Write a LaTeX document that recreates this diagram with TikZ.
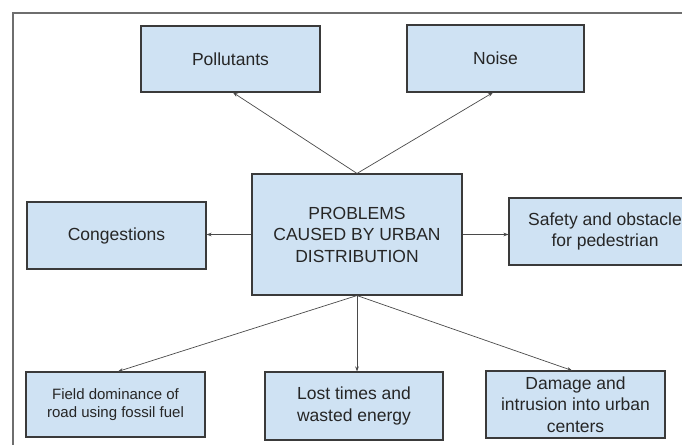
\documentclass[tikz,border=0pt]{standalone}
\usepackage{fontspec}
\setmainfont{Liberation Sans}
\usetikzlibrary{arrows.meta}

\definecolor{boxfill}{HTML}{CFE2F3}
\definecolor{boxline}{HTML}{3A3A3A}
\definecolor{frameline}{HTML}{6E6E6E}
\definecolor{linkline}{HTML}{4A4A4A}
\definecolor{labeltext}{HTML}{262626}

\tikzset{
  topic/.style={draw=boxline, line width=1.1pt, fill=boxfill, align=center,
    text=labeltext, inner sep=2pt,
    font=\fontsize{17.5}{21.5}\selectfont},
  smalltopic/.style={topic, font=\fontsize{15}{18}\selectfont},
  link/.style={draw=linkline, line width=0.7pt,
    -{Stealth[length=5pt,width=3.6pt]}}
}

\begin{document}
\begin{tikzpicture}[x=1pt, y=-1pt]
  \useasboundingbox (0,0) rectangle (682,444);
  \clip (0,0) rectangle (682,444);
  \fill[white] (0,0) rectangle (682,444);

  % outer frame, only its top and left sides fall inside the page
  \draw[frameline, line width=1.2pt] (13,460) -- (13,13) -- (700,13);

  % central problem
  \node[topic, minimum width=210pt, minimum height=121pt] (core) at (357,234.5)
    {PROBLEMS\\CAUSED BY URBAN\\DISTRIBUTION};

  % surrounding effects
  \node[topic, minimum width=179pt, minimum height=66pt] (poll) at (230.5,59) {Pollutants};
  \node[topic, minimum width=177pt, minimum height=67pt] (noise) at (495.5,58.5) {Noise};
  \node[topic, minimum width=179pt, minimum height=67pt] (cong) at (116.5,235.5) {Congestions};
  \node[topic, minimum width=192pt, minimum height=67pt] (safety) at (605,231.5)
    {Safety and obstacle\\for pedestrian};
  \node[smalltopic, minimum width=179pt, minimum height=65pt] (field) at (115.5,404.5)
    {Field dominance of\\road using fossil fuel};
  \node[topic, minimum width=178pt, minimum height=68pt] (lost) at (354,406)
    {Lost times and\\wasted energy};
  \node[topic, minimum width=179pt, minimum height=67pt] (damage) at (575.5,404.5)
    {Damage and\\intrusion into urban\\centers};

  % connectors
  \draw[link] (core.north) -- ([xshift=2.5pt]poll.south);
  \draw[link] (core.north) -- ([xshift=-2.5pt]noise.south);
  \draw[link] (core.west) -- (cong.east |- core.west);
  \draw[link] (core.east) -- (safety.west |- core.east);
  \draw[link] (core.south) -- ([xshift=2.5pt]field.north);
  \draw[link] (core.south) -- (core.south |- lost.north);
  \draw[link] (core.south) -- ([xshift=-3.5pt]damage.north);
\end{tikzpicture}
\end{document}
